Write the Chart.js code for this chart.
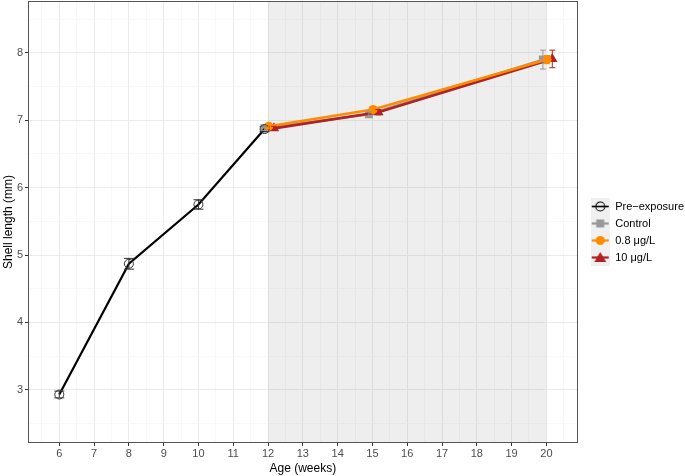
<!DOCTYPE html>
<html><head><meta charset="utf-8">
<script src="https://cdn.jsdelivr.net/npm/chart.js@4/dist/chart.umd.min.js"></script>
<style>html,body{margin:0;padding:0;background:#fff}#wrap{width:685px;height:476px;position:relative}</style>
</head><body><div id="wrap"><canvas id="c"></canvas></div>
<script>
// ---- data ----
const preAges = [6, 8, 10, 12];
const preMeans = [2.93, 4.87, 5.75, 6.87];
const preSE = [0.05, 0.08, 0.07, 0.04];
const expAges = [12, 15, 20];
const controlMeans = [6.88, 7.09, 7.90];
const controlSE = [0.03, 0.04, 0.14];
const lowMeans = [6.91, 7.16, 7.90];
const lowSE = [0.03, 0.04, 0.06];
const highMeans = [6.88, 7.12, 7.91];
const highSE = [0.03, 0.04, 0.13];
const xTickLabels = [6, 7, 8, 9, 10, 11, 12, 13, 14, 15, 16, 17, 18, 19, 20];
const yTickLabels = [3, 4, 5, 6, 7, 8];
const seriesNames = ['Pre\u2212exposure', 'Control', '0.8 \u03bcg/L', '10 \u03bcg/L'];
const exposureWindow = [12, 20];

// position dodge (ggplot position_dodge)
const preDodge = [0, 0, 0, -0.1];
const dodge = { control: -0.1, low: 0.02, high: 0.17 };

const COL = { pre: '#000000', control: '#999999', low: '#FF8C00', high: '#B22222' };

function pts(xs, ys, off) {
  return xs.map((x, i) => ({ x: x + (Array.isArray(off) ? off[i] : off), y: ys[i] }));
}

function makeIcon(kind) {
  const c = document.createElement('canvas');
  c.width = 19; c.height = 17;
  const g = c.getContext('2d');
  g.fillStyle = '#f0f0f0';
  g.fillRect(0, 0, 19, 17);
  const cx = 9.5, cy = 8.5;
  g.strokeStyle = COL[kind];
  g.lineWidth = kind === 'pre' ? 1.6 : 2.2;
  g.beginPath(); g.moveTo(1, cy); g.lineTo(18, cy); g.stroke();
  if (kind === 'pre') {
    g.lineWidth = 1.1; g.beginPath(); g.arc(cx, cy, 4.5, 0, Math.PI * 2); g.stroke();
  } else if (kind === 'control') {
    g.fillStyle = COL.control; g.fillRect(cx - 4, cy - 4, 8, 8);
  } else if (kind === 'low') {
    g.fillStyle = COL.low; g.beginPath(); g.arc(cx, cy, 4.6, 0, Math.PI * 2); g.fill();
  } else {
    g.fillStyle = COL.high; g.beginPath();
    g.moveTo(cx, cy - 5.5); g.lineTo(cx + 6, cy + 4.5); g.lineTo(cx - 6, cy + 4.5); g.closePath(); g.fill();
  }
  return c;
}
const icons = { pre: makeIcon('pre'), control: makeIcon('control'), low: makeIcon('low'), high: makeIcon('high') };

function halfTicks(a, b) { const t = []; for (let v = a; v <= b + 1e-9; v += 0.5) t.push({ value: v }); return t; }

const shadePlugin = {
  id: 'shade',
  beforeDatasetsDraw(chart) {
    const { ctx, chartArea: a, scales: { x } } = chart;
    const x0 = x.getPixelForValue(exposureWindow[0]);
    const x1 = x.getPixelForValue(exposureWindow[1]);
    ctx.save();
    ctx.fillStyle = 'rgba(120,120,120,0.13)';
    ctx.fillRect(x0, a.top, x1 - x0, a.bottom - a.top);
    ctx.restore();
  }
};

const errPlugin = {
  id: 'errbars',
  afterDatasetsDraw(chart) {
    const { ctx, scales: { x, y } } = chart;
    chart.data.datasets.forEach((ds) => {
      if (!ds.errors) return;
      ctx.save();
      ctx.strokeStyle = ds.errColor;
      ctx.lineWidth = 1;
      ds.data.forEach((p, i) => {
        const px = x.getPixelForValue(p.x);
        const yt = y.getPixelForValue(p.y + ds.errors[i]);
        const yb = y.getPixelForValue(p.y - ds.errors[i]);
        const w = ds.capW;
        ctx.beginPath();
        ctx.moveTo(px, yt); ctx.lineTo(px, yb);
        ctx.moveTo(px - w, yt); ctx.lineTo(px + w, yt);
        ctx.moveTo(px - w, yb); ctx.lineTo(px + w, yb);
        ctx.stroke();
      });
      ctx.restore();
    });
  }
};

const borderPlugin = {
  id: 'panelBorder',
  afterDraw(chart) {
    const { ctx, chartArea: a } = chart;
    ctx.save();
    ctx.strokeStyle = '#555555';
    ctx.lineWidth = 1;
    ctx.strokeRect(Math.round(a.left) + 0.5, Math.round(a.top) + 0.5, Math.round(a.right - a.left) - 1, Math.round(a.bottom - a.top) - 1);
    ctx.restore();
  }
};

const gridColor = (ctx) => (ctx.tick && Number.isInteger(ctx.tick.value)) ? '#ebebeb' : '#f5f5f5';
const tickColor = (ctx) => (ctx.tick && Number.isInteger(ctx.tick.value)) ? '#333333' : 'rgba(0,0,0,0)';
function noPad(s) { s.paddingTop = 0; s.paddingBottom = 0; s.paddingLeft = 0; s.paddingRight = 0; }

new Chart(document.getElementById('c'), {
  type: 'scatter',
  data: {
    datasets: [
      { label: seriesNames[0], data: pts(preAges, preMeans, preDodge), showLine: true,
        borderColor: COL.pre, borderWidth: 2.2, pointStyle: 'circle', pointRadius: 4.5,
        pointBackgroundColor: 'rgba(0,0,0,0)', pointBorderColor: '#333', pointBorderWidth: 1,
        errors: preSE, errColor: '#333', capW: 5, tension: 0 },
      { label: seriesNames[2], data: pts(expAges, lowMeans, dodge.low), showLine: true,
        borderColor: COL.low, borderWidth: 2.6, pointStyle: 'circle', pointRadius: 4.6,
        pointBackgroundColor: COL.low, pointBorderColor: COL.low, pointBorderWidth: 0,
        errors: lowSE, errColor: COL.low, capW: 3 },
      { label: seriesNames[3], data: pts(expAges, highMeans, dodge.high), showLine: true,
        borderColor: COL.high, borderWidth: 2.6, pointStyle: 'triangle', pointRadius: 6,
        pointBackgroundColor: COL.high, pointBorderColor: COL.high, pointBorderWidth: 0,
        errors: highSE, errColor: COL.high, capW: 3 },
      { label: seriesNames[1], data: pts(expAges, controlMeans, dodge.control), showLine: true,
        borderColor: COL.control, borderWidth: 2.6, pointStyle: 'rect', pointRadius: 5.7,
        pointBackgroundColor: COL.control, pointBorderColor: COL.control, pointBorderWidth: 0,
        errors: controlSE, errColor: COL.control, capW: 3 }
    ]
  },
  options: {
    responsive: true, maintainAspectRatio: false, animation: false,
    layout: { autoPadding: false, padding: { top: 1, left: 0, right: -9, bottom: 13 } },
    plugins: {
      tooltip: { enabled: false },
      legend: {
        position: 'right', align: 'center',
        labels: {
          usePointStyle: true, pointStyleWidth: 19, padding: 6,
          font: { family: 'Liberation Sans, Arial, sans-serif', size: 11 }, color: '#1a1a1a',
          generateLabels() {
            const kinds = ['pre', 'control', 'low', 'high'];
            return kinds.map((k, i) => ({ text: seriesNames[i], pointStyle: icons[k], fillStyle: COL[k],
              strokeStyle: COL[k], lineWidth: 0, hidden: false, datasetIndex: 0 }));
          }
        }
      }
    },
    scales: {
      x: {
        type: 'linear', min: 5.1, max: 20.9,
        afterBuildTicks(s) { s.ticks = halfTicks(5.5, 20.5); },
        afterFit(s) { s.height = 20; noPad(s); },
        ticks: { autoSkip: false, maxRotation: 0, padding: 1, color: '#4d4d4d',
          font: { family: 'Liberation Sans, Arial, sans-serif', size: 11 },
          callback: (v) => xTickLabels.includes(v) ? String(v) : '' },
        grid: { color: gridColor, lineWidth: (c) => (c.tick && Number.isInteger(c.tick.value)) ? 1 : 0.7,
          tickColor: tickColor, tickLength: 3 },
        border: { display: false },
        title: { display: true, text: 'Age (weeks)', color: '#000',
          font: { family: 'Liberation Sans, Arial, sans-serif', size: 12 }, padding: { top: 0, bottom: -13 } }
      },
      y: {
        type: 'linear', min: 2.21, max: 8.77,
        afterBuildTicks(s) { s.ticks = halfTicks(2.5, 8.5); },
        afterFit(s) { s.width = 28; noPad(s); },
        ticks: { autoSkip: false, padding: 2, color: '#4d4d4d',
          font: { family: 'Liberation Sans, Arial, sans-serif', size: 11 },
          callback: (v) => yTickLabels.includes(v) ? String(v) : '' },
        grid: { color: gridColor, lineWidth: (c) => (c.tick && Number.isInteger(c.tick.value)) ? 1 : 0.7,
          tickColor: tickColor, tickLength: 3 },
        border: { display: false },
        title: { display: true, text: 'Shell length (mm)', color: '#000',
          font: { family: 'Liberation Sans, Arial, sans-serif', size: 12 }, padding: { top: 1, bottom: 0 } }
      },
      gap: {
        type: 'linear', position: 'right', display: true,
        afterFit(s) { s.width = 7; noPad(s); },
        ticks: { display: false }, grid: { display: false }, border: { display: false }
      }
    }
  },
  plugins: [shadePlugin, errPlugin, borderPlugin]
});
</script></body></html>
